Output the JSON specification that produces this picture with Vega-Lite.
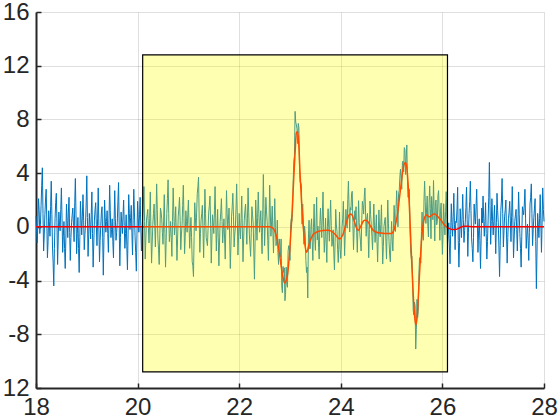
{
  "$schema": "https://vega.github.io/schema/vega-lite/v6.json",
  "width": 508,
  "height": 376,
  "autosize": {"type": "none"},
  "padding": {"left": 36, "top": 12, "right": 16, "bottom": 32},
  "background": "white",
  "config": {
    "view": {"stroke": null},
    "axis": {
      "labelFont": "Liberation Sans",
      "labelFontSize": 24,
      "labelColor": "#262626",
      "domainColor": "#262626",
      "domainWidth": 2,
      "tickColor": "#262626",
      "tickWidth": 1.5,
      "tickSize": -5,
      "gridColor": "#262626",
      "gridOpacity": 0.15,
      "gridWidth": 1,
      "title": null
    }
  },
  "datasets": {
    "blue": [
      {"x":18,"y":0.8},{"x":18.025,"y":-1.2},{"x":18.05,"y":2.1},{"x":18.075,"y":-0.5},{"x":18.1,"y":1.6},{"x":18.125,"y":4.4},{"x":18.15,"y":-1.8},{"x":18.175,"y":0.9},{"x":18.2,"y":2.8},{"x":18.225,"y":-2.3},
      {"x":18.25,"y":1.2},{"x":18.275,"y":-0.7},{"x":18.3,"y":3.4},{"x":18.325,"y":-1.5},{"x":18.35,"y":-4.4},{"x":18.375,"y":0.6},{"x":18.4,"y":2.5},{"x":18.425,"y":-2.8},{"x":18.45,"y":1.1},{"x":18.475,"y":-0.3},
      {"x":18.5,"y":2.9},{"x":18.525,"y":-1.9},{"x":18.55,"y":0.4},{"x":18.575,"y":-3.1},{"x":18.6,"y":1.7},{"x":18.625,"y":-0.8},{"x":18.65,"y":2.2},{"x":18.675,"y":-2.5},{"x":18.7,"y":0.3},{"x":18.725,"y":1.4},
      {"x":18.75,"y":-1.1},{"x":18.775,"y":3.6},{"x":18.8,"y":-2.0},{"x":18.825,"y":0.7},{"x":18.85,"y":-3.4},{"x":18.875,"y":1.9},{"x":18.9,"y":-0.6},{"x":18.925,"y":2.4},{"x":18.95,"y":-1.7},{"x":18.975,"y":0.2},
      {"x":19,"y":3.8},{"x":19.025,"y":-2.2},{"x":19.05,"y":1.0},{"x":19.075,"y":-0.9},{"x":19.1,"y":2.6},{"x":19.125,"y":-3.0},{"x":19.15,"y":0.5},{"x":19.175,"y":1.8},{"x":19.2,"y":-1.4},{"x":19.225,"y":2.9},
      {"x":19.25,"y":-2.6},{"x":19.275,"y":0.1},{"x":19.3,"y":1.5},{"x":19.325,"y":-3.6},{"x":19.35,"y":2.0},{"x":19.375,"y":-0.4},{"x":19.4,"y":1.2},{"x":19.425,"y":-1.9},{"x":19.45,"y":3.1},{"x":19.475,"y":-0.8},
      {"x":19.5,"y":0.6},{"x":19.525,"y":-2.3},{"x":19.55,"y":2.7},{"x":19.575,"y":-1.0},{"x":19.6,"y":0.3},{"x":19.625,"y":3.3},{"x":19.65,"y":-2.9},{"x":19.675,"y":1.1},{"x":19.7,"y":-0.5},{"x":19.725,"y":2.0},
      {"x":19.75,"y":-1.6},{"x":19.775,"y":0.9},{"x":19.8,"y":-3.2},{"x":19.825,"y":2.4},{"x":19.85,"y":-0.2},{"x":19.875,"y":1.6},{"x":19.9,"y":-2.1},{"x":19.925,"y":2.8},{"x":19.95,"y":-0.7},{"x":19.975,"y":-3.3},
      {"x":20,"y":1.9},{"x":20.025,"y":-0.4},{"x":20.05,"y":2.2},{"x":20.075,"y":-1.8},{"x":20.1,"y":0.8},{"x":20.125,"y":3.0},{"x":20.15,"y":-2.4},{"x":20.175,"y":0.5},{"x":20.2,"y":1.3},{"x":20.225,"y":-1.2},
      {"x":20.25,"y":2.6},{"x":20.275,"y":-2.7},{"x":20.3,"y":0.2},{"x":20.325,"y":1.7},{"x":20.35,"y":-1.5},{"x":20.375,"y":3.2},{"x":20.4,"y":-0.9},{"x":20.425,"y":-2.8},{"x":20.45,"y":1.4},{"x":20.475,"y":0.6},
      {"x":20.5,"y":-1.3},{"x":20.525,"y":2.4},{"x":20.55,"y":-3.0},{"x":20.575,"y":1.0},{"x":20.6,"y":3.5},{"x":20.625,"y":-1.1},{"x":20.65,"y":0.4},{"x":20.675,"y":-2.2},{"x":20.7,"y":2.9},{"x":20.725,"y":-0.6},
      {"x":20.75,"y":1.5},{"x":20.775,"y":-2.5},{"x":20.8,"y":0.8},{"x":20.825,"y":2.2},{"x":20.85,"y":-1.7},{"x":20.875,"y":0.1},{"x":20.9,"y":3.1},{"x":20.925,"y":-2.0},{"x":20.95,"y":1.2},{"x":20.975,"y":-0.4},
      {"x":21,"y":2.0},{"x":21.025,"y":-1.6},{"x":21.05,"y":0.7},{"x":21.075,"y":-2.6},{"x":21.1,"y":-3.7},{"x":21.125,"y":1.8},{"x":21.15,"y":-0.3},{"x":21.175,"y":2.5},{"x":21.2,"y":3.7},{"x":21.225,"y":-1.9},
      {"x":21.25,"y":0.5},{"x":21.275,"y":1.6},{"x":21.3,"y":-2.3},{"x":21.325,"y":2.8},{"x":21.35,"y":-0.8},{"x":21.375,"y":-1.4},{"x":21.4,"y":1.1},{"x":21.425,"y":2.3},{"x":21.45,"y":-2.7},{"x":21.475,"y":0.9},
      {"x":21.5,"y":-0.5},{"x":21.525,"y":3.0},{"x":21.55,"y":-1.8},{"x":21.575,"y":1.3},{"x":21.6,"y":-2.9},{"x":21.625,"y":0.4},{"x":21.65,"y":2.1},{"x":21.675,"y":-1.2},{"x":21.7,"y":0.6},{"x":21.725,"y":-2.4},
      {"x":21.75,"y":2.7},{"x":21.775,"y":-0.2},{"x":21.8,"y":1.4},{"x":21.825,"y":-3.1},{"x":21.85,"y":0.8},{"x":21.875,"y":2.5},{"x":21.9,"y":-1.5},{"x":21.925,"y":0.0},{"x":21.95,"y":3.2},{"x":21.975,"y":-2.1},
      {"x":22,"y":1.0},{"x":22.025,"y":-0.9},{"x":22.05,"y":2.3},{"x":22.075,"y":-2.6},{"x":22.1,"y":0.5},{"x":22.125,"y":1.7},{"x":22.15,"y":-1.3},{"x":22.175,"y":2.9},{"x":22.2,"y":-0.6},{"x":22.225,"y":-2.2},
      {"x":22.25,"y":1.5},{"x":22.275,"y":0.3},{"x":22.3,"y":-3.9},{"x":22.325,"y":2.0},{"x":22.35,"y":-1.0},{"x":22.375,"y":2.6},{"x":22.4,"y":-0.4},{"x":22.425,"y":1.2},{"x":22.45,"y":-2.0},{"x":22.475,"y":3.9},
      {"x":22.5,"y":-1.4},{"x":22.525,"y":2.2},{"x":22.55,"y":0.4},{"x":22.575,"y":-2.5},{"x":22.6,"y":3.1},{"x":22.625,"y":-0.7},{"x":22.65,"y":1.55},{"x":22.675,"y":-1.95},{"x":22.7,"y":2.1},{"x":22.725,"y":-1.4},
      {"x":22.75,"y":0.5},{"x":22.775,"y":-2.8},{"x":22.8,"y":-1.4},{"x":22.825,"y":-0.9},{"x":22.85,"y":-4.9},{"x":22.875,"y":-3.4},{"x":22.9,"y":-5.5},{"x":22.925,"y":-3.0},{"x":22.95,"y":-4.5},{"x":22.975,"y":-1.4},
      {"x":23,"y":-2.5},{"x":23.025,"y":0.6},{"x":23.05,"y":1.0},{"x":23.075,"y":4.9},{"x":23.1,"y":8.6},{"x":23.125,"y":7.6},{"x":23.15,"y":6.2},{"x":23.175,"y":7.4},{"x":23.2,"y":3.3},{"x":23.225,"y":3.1},
      {"x":23.25,"y":1.7},{"x":23.275,"y":-1.3},{"x":23.3,"y":-0.6},{"x":23.325,"y":-3.4},{"x":23.35,"y":-5.3},{"x":23.375,"y":0.5},{"x":23.4,"y":-1.6},{"x":23.425,"y":0.6},{"x":23.45,"y":-2.5},{"x":23.475,"y":1.7},
      {"x":23.5,"y":-1.75},{"x":23.525,"y":2.2},{"x":23.55,"y":0.05},{"x":23.575,"y":-2.4},{"x":23.6,"y":1.4},{"x":23.625,"y":-0.8},{"x":23.65,"y":2.6},{"x":23.675,"y":-1.9},{"x":23.7,"y":0.65},{"x":23.725,"y":-2.65},
      {"x":23.75,"y":1.35},{"x":23.775,"y":-1.07},{"x":23.8,"y":2.0},{"x":23.825,"y":-1.45},{"x":23.85,"y":-0.22},{"x":23.875,"y":-3.2},{"x":23.9,"y":1.3},{"x":23.925,"y":-0.32},{"x":23.95,"y":-2.65},{"x":23.975,"y":1.1},
      {"x":24,"y":-2.35},{"x":24.025,"y":0.0},{"x":24.05,"y":1.9},{"x":24.075,"y":-2.15},{"x":24.1,"y":1.3},{"x":24.125,"y":-0.1},{"x":24.15,"y":3.4},{"x":24.175,"y":-0.38},{"x":24.2,"y":1.25},{"x":24.225,"y":2.65},
      {"x":24.25,"y":-1.7},{"x":24.275,"y":1.2},{"x":24.3,"y":1.5},{"x":24.325,"y":-1.9},{"x":24.35,"y":1.95},{"x":24.375,"y":-0.5},{"x":24.4,"y":-1.8},{"x":24.425,"y":1.9},{"x":24.45,"y":0.95},{"x":24.475,"y":2.9},
      {"x":24.5,"y":-0.7},{"x":24.525,"y":1.0},{"x":24.55,"y":-2.3},{"x":24.575,"y":1.92},{"x":24.6,"y":0.15},{"x":24.625,"y":-1.7},{"x":24.65,"y":1.7},{"x":24.675,"y":-1.16},{"x":24.7,"y":0.9},{"x":24.725,"y":-2.62},
      {"x":24.75,"y":1.26},{"x":24.775,"y":-0.75},{"x":24.8,"y":1.64},{"x":24.825,"y":-2.77},{"x":24.85,"y":0.02},{"x":24.875,"y":0.7},{"x":24.9,"y":-2.4},{"x":24.925,"y":2.0},{"x":24.95,"y":-1.1},{"x":24.975,"y":-2.6},
      {"x":25,"y":0.4},{"x":25.025,"y":-1.8},{"x":25.05,"y":1.6},{"x":25.075,"y":-0.35},{"x":25.1,"y":2.7},{"x":25.125,"y":0.0},{"x":25.15,"y":2.7},{"x":25.175,"y":4.3},{"x":25.2,"y":2.8},{"x":25.225,"y":4.9},
      {"x":25.25,"y":5.9},{"x":25.275,"y":3.9},{"x":25.3,"y":6.1},{"x":25.325,"y":2.2},{"x":25.35,"y":2.8},{"x":25.375,"y":-1.8},{"x":25.4,"y":-2.2},{"x":25.425,"y":-6.2},{"x":25.45,"y":-5.6},{"x":25.475,"y":-9.1},
      {"x":25.5,"y":-5.4},{"x":25.525,"y":-6.3},{"x":25.55,"y":-2.3},{"x":25.575,"y":-2.7},{"x":25.6,"y":1.1},{"x":25.625,"y":-1.0},{"x":25.65,"y":3.4},{"x":25.675,"y":0.25},{"x":25.7,"y":2.3},{"x":25.725,"y":-0.75},
      {"x":25.75,"y":3.05},{"x":25.775,"y":-0.88},{"x":25.8,"y":1.5},{"x":25.825,"y":3.45},{"x":25.85,"y":-1.05},{"x":25.875,"y":2.0},{"x":25.9,"y":0.4},{"x":25.925,"y":2.7},{"x":25.95,"y":-1.0},{"x":25.975,"y":1.78},
      {"x":26,"y":-2.05},{"x":26.025,"y":1.72},{"x":26.05,"y":-0.6},{"x":26.075,"y":2.62},{"x":26.1,"y":-1.25},{"x":26.125,"y":0.3},{"x":26.15,"y":-2.75},{"x":26.175,"y":1.72},{"x":26.2,"y":-0.7},{"x":26.225,"y":2.5},
      {"x":26.25,"y":-1.7},{"x":26.275,"y":0.32},{"x":26.3,"y":2.95},{"x":26.325,"y":-3.0},{"x":26.35,"y":1.35},{"x":26.375,"y":-0.8},{"x":26.4,"y":2.42},{"x":26.425,"y":-1.16},{"x":26.45,"y":0.35},{"x":26.475,"y":2.95},
      {"x":26.5,"y":-2.2},{"x":26.525,"y":1.0},{"x":26.55,"y":3.4},{"x":26.575,"y":-0.9},{"x":26.6,"y":-2.6},{"x":26.625,"y":1.7},{"x":26.65,"y":0.2},{"x":26.675,"y":2.8},{"x":26.7,"y":-1.9},{"x":26.725,"y":0.6},
      {"x":26.75,"y":-3.1},{"x":26.775,"y":1.4},{"x":26.8,"y":2.3},{"x":26.825,"y":-0.7},{"x":26.85,"y":1.8},{"x":26.875,"y":-2.4},{"x":26.9,"y":0.5},{"x":26.925,"y":4.8},{"x":26.95,"y":-1.3},{"x":26.975,"y":2.1},
      {"x":27,"y":-0.6},{"x":27.025,"y":1.6},{"x":27.05,"y":-2.0},{"x":27.075,"y":2.5},{"x":27.1,"y":0.3},{"x":27.125,"y":-3.7},{"x":27.15,"y":1.2},{"x":27.175,"y":3.6},{"x":27.2,"y":-1.5},{"x":27.225,"y":0.8},
      {"x":27.25,"y":2.0},{"x":27.275,"y":-2.7},{"x":27.3,"y":0.6},{"x":27.325,"y":1.9},{"x":27.35,"y":-1.1},{"x":27.375,"y":3.0},{"x":27.4,"y":-2.3},{"x":27.425,"y":0.4},{"x":27.45,"y":1.3},{"x":27.475,"y":-1.8},
      {"x":27.5,"y":2.6},{"x":27.525,"y":-0.5},{"x":27.55,"y":-3.0},{"x":27.575,"y":1.5},{"x":27.6,"y":0.9},{"x":27.625,"y":2.8},{"x":27.65,"y":-1.6},{"x":27.675,"y":0.2},{"x":27.7,"y":-2.5},{"x":27.725,"y":1.7},
      {"x":27.75,"y":3.2},{"x":27.775,"y":-1.4},{"x":27.8,"y":0.7},{"x":27.825,"y":2.1},{"x":27.85,"y":-4.6},{"x":27.875,"y":1.0},{"x":27.9,"y":-0.8},{"x":27.925,"y":2.4},{"x":27.95,"y":-1.9},{"x":27.975,"y":2.9},
      {"x":28,"y":0.4},
      {"x":18.0125,"y":-0.4},{"x":18.0375,"y":0.3},{"x":18.0625,"y":1.2},{"x":18.0875,"y":0.2},{"x":18.1125,"y":3.1},{"x":18.1375,"y":1.0},{"x":18.1625,"y":-0.6},{"x":18.1875,"y":2.0},{"x":18.2125,"y":0.5},{"x":18.2375,"y":-1.1},
      {"x":18.2625,"y":0.4},{"x":18.2875,"y":1.5},{"x":18.3125,"y":0.9},{"x":18.3375,"y":-2.7},{"x":18.3625,"y":-1.6},{"x":18.3875,"y":1.8},{"x":18.4125,"y":0.3},{"x":18.4375,"y":-0.9},{"x":18.4625,"y":0.2},{"x":18.4875,"y":1.3},
      {"x":18.5125,"y":0.6},{"x":18.5375,"y":-0.7},{"x":18.5625,"y":-1.6},{"x":18.5875,"y":-0.9},{"x":18.6125,"y":0.5},{"x":18.6375,"y":1.1},{"x":18.6625,"y":-0.4},{"x":18.6875,"y":-0.8},{"x":18.7125,"y":0.9},{"x":18.7375,"y":0.1},
      {"x":18.7625,"y":1.8},{"x":18.7875,"y":0.9},{"x":18.8125,"y":-0.5},{"x":18.8375,"y":-1.6},{"x":18.8625,"y":-0.8},{"x":18.8875,"y":0.6},{"x":18.9125,"y":0.8},{"x":18.9375,"y":0.5},{"x":18.9625,"y":-0.6},{"x":18.9875,"y":1.7},
      {"x":19.0125,"y":0.7},{"x":19.0375,"y":-0.6},{"x":19.0625,"y":0.2},{"x":19.0875,"y":0.9},{"x":19.1125,"y":-0.5},{"x":19.1375,"y":-1.2},{"x":19.1625,"y":1.3},{"x":19.1875,"y":0.2},{"x":19.2125,"y":0.6},{"x":19.2375,"y":0.1},
      {"x":19.2625,"y":-1.0},{"x":19.2875,"y":1.1},{"x":19.3125,"y":-0.8},{"x":19.3375,"y":-0.9},{"x":19.3625,"y":0.7},{"x":19.3875,"y":0.4},{"x":19.4125,"y":-0.5},{"x":19.4375,"y":0.6},{"x":19.4625,"y":1.2},{"x":19.4875,"y":-0.2},
      {"x":19.5125,"y":-1.1},{"x":19.5375,"y":0.4},{"x":19.5625,"y":0.6},{"x":19.5875,"y":-0.4},{"x":19.6125,"y":1.9},{"x":19.6375,"y":0.2},{"x":19.6625,"y":-0.8},{"x":19.6875,"y":0.3},{"x":19.7125,"y":0.8},{"x":19.7375,"y":0.1},
      {"x":19.7625,"y":-0.5},{"x":19.7875,"y":-1.4},{"x":19.8125,"y":-0.6},{"x":19.8375,"y":1.0},{"x":19.8625,"y":0.7},{"x":19.8875,"y":-0.4},{"x":19.9125,"y":0.5},{"x":19.9375,"y":1.1},{"x":19.9625,"y":-1.9},{"x":19.9875,"y":-0.6},
      {"x":20.0125,"y":0.7},{"x":20.0375,"y":0.9},{"x":20.0625,"y":0.1},{"x":20.0875,"y":-0.4},{"x":20.1125,"y":1.7},{"x":20.1375,"y":0.4},{"x":20.1625,"y":-0.9},{"x":20.1875,"y":0.9},{"x":20.2125,"y":-0.1},{"x":20.2375,"y":0.6},
      {"x":20.2625,"y":-0.3},{"x":20.2875,"y":-1.2},{"x":20.3125,"y":1.0},{"x":20.3375,"y":0.1},{"x":20.3625,"y":0.8},{"x":20.3875,"y":1.3},{"x":20.4125,"y":-1.7},{"x":20.4375,"y":-0.6},{"x":20.4625,"y":1.1},{"x":20.4875,"y":-0.4},
      {"x":20.5125,"y":0.5},{"x":20.5375,"y":-0.5},{"x":20.5625,"y":-1.0},{"x":20.5875,"y":2.1},{"x":20.6125,"y":1.0},{"x":20.6375,"y":-0.5},{"x":20.6625,"y":-0.8},{"x":20.6875,"y":0.4},{"x":20.7125,"y":1.2},{"x":20.7375,"y":0.3},
      {"x":20.7625,"y":-0.6},{"x":20.7875,"y":-0.9},{"x":20.8125,"y":1.4},{"x":20.8375,"y":0.5},{"x":20.8625,"y":-0.6},{"x":20.8875,"y":1.6},{"x":20.9125,"y":0.7},{"x":20.9375,"y":-0.7},{"x":20.9625,"y":0.4},{"x":20.9875,"y":0.9},
      {"x":21.0125,"y":0.2},{"x":21.0375,"y":-0.4},{"x":21.0625,"y":-0.8},{"x":21.0875,"y":-2.9},{"x":21.1125,"y":-0.7},{"x":21.1375,"y":0.7},{"x":21.1625,"y":1.1},{"x":21.1875,"y":3.0},{"x":21.2125,"y":0.6},{"x":21.2375,"y":-0.5},
      {"x":21.2625,"y":1.0},{"x":21.2875,"y":-0.3},{"x":21.3125,"y":0.1},{"x":21.3375,"y":1.0},{"x":21.3625,"y":-1.1},{"x":21.3875,"y":-0.1},{"x":21.4125,"y":1.6},{"x":21.4375,"y":0.2},{"x":21.4625,"y":-0.9},{"x":21.4875,"y":0.3},
      {"x":21.5125,"y":1.2},{"x":21.5375,"y":0.6},{"x":21.5625,"y":-0.3},{"x":21.5875,"y":-0.8},{"x":21.6125,"y":-1.2},{"x":21.6375,"y":1.1},{"x":21.6625,"y":0.4},{"x":21.6875,"y":-0.2},{"x":21.7125,"y":-0.9},{"x":21.7375,"y":0.1},
      {"x":21.7625,"y":1.0},{"x":21.7875,"y":0.5},{"x":21.8125,"y":-0.9},{"x":21.8375,"y":-1.4},{"x":21.8625,"y":1.5},{"x":21.8875,"y":0.8},{"x":21.9125,"y":-0.6},{"x":21.9375,"y":1.4},{"x":21.9625,"y":0.9},{"x":21.9875,"y":-0.7},
      {"x":22.0125,"y":-0.1},{"x":22.0375,"y":0.6},{"x":22.0625,"y":-0.3},{"x":22.0875,"y":-0.9},{"x":22.1125,"y":1.2},{"x":22.1375,"y":0.3},{"x":22.1625,"y":0.6},{"x":22.1875,"y":1.1},{"x":22.2125,"y":-1.4},{"x":22.2375,"y":-0.4},
      {"x":22.2625,"y":0.9},{"x":22.2875,"y":-1.8},{"x":22.3125,"y":-1.2},{"x":22.3375,"y":0.6},{"x":22.3625,"y":0.7},{"x":22.3875,"y":1.0},{"x":22.4125,"y":0.4},{"x":22.4375,"y":-0.4},{"x":22.4625,"y":0.8},{"x":22.4875,"y":1.3},
      {"x":22.5125,"y":0.3},{"x":22.5375,"y":1.2},{"x":22.5625,"y":-1.0},{"x":22.5875,"y":0.2},{"x":22.6125,"y":1.1},{"x":22.6375,"y":0.37},{"x":22.6625,"y":-0.3},{"x":22.6875,"y":-0.02},{"x":22.7125,"y":-0.05},{"x":22.7375,"y":-1.1},
      {"x":22.7625,"y":-1.9},{"x":22.7875,"y":-0.9},{"x":22.8125,"y":-2.25},{"x":22.8375,"y":-4.4},{"x":22.8625,"y":-2.95},{"x":22.8875,"y":-3.05},{"x":22.9125,"y":-5.05},{"x":22.9375,"y":-4.3},{"x":22.9625,"y":-1.8},{"x":22.9875,"y":-1.7},
      {"x":23.0125,"y":0.15},{"x":23.0375,"y":0.4},{"x":23.0625,"y":3.35},{"x":23.0875,"y":5.3},{"x":23.1125,"y":7.8},{"x":23.1375,"y":7.3},{"x":23.1625,"y":7.7},{"x":23.1875,"y":4.3},{"x":23.2125,"y":3.3},{"x":23.2375,"y":0.2},
      {"x":23.2625,"y":0.35},{"x":23.2875,"y":0.05},{"x":23.3125,"y":-2.5},{"x":23.3375,"y":-3.0},{"x":23.3625,"y":-0.9},{"x":23.3875,"y":-1.65},{"x":23.4125,"y":0.0},{"x":23.4375,"y":-1.1},{"x":23.4625,"y":-0.05},{"x":23.4875,"y":-0.77},
      {"x":23.5125,"y":0.28},{"x":23.5375,"y":-0.97},{"x":23.5625,"y":-1.53},{"x":23.5875,"y":0.19},{"x":23.6125,"y":0.11},{"x":23.6375,"y":1.03},{"x":23.6625,"y":-0.06},{"x":23.6875,"y":-0.95},{"x":23.7125,"y":-1.25},{"x":23.7375,"y":0.05},
      {"x":23.7625,"y":-0.06},{"x":23.7875,"y":0.62},{"x":23.8125,"y":0.08},{"x":23.8375,"y":-1.08},{"x":23.8625,"y":-1.96},{"x":23.8875,"y":-1.15},{"x":23.9125,"y":0.14},{"x":23.9375,"y":-1.68},{"x":23.9625,"y":-1.28},{"x":23.9875,"y":-1.68},
      {"x":24.0125,"y":-1.28},{"x":24.0375,"y":0.6},{"x":24.0625,"y":-0.03},{"x":24.0875,"y":-0.38},{"x":24.1125,"y":0.55},{"x":24.1375,"y":2.05},{"x":24.1625,"y":1.46},{"x":24.1875,"y":1.44},{"x":24.2125,"y":2.5},{"x":24.2375,"y":0.32},
      {"x":24.2625,"y":-0.15},{"x":24.2875,"y":0.55},{"x":24.3125,"y":-0.4},{"x":24.3375,"y":-0.03},{"x":24.3625,"y":0.32},{"x":24.3875,"y":-1.1},{"x":24.4125,"y":0.5},{"x":24.4375,"y":1.58},{"x":24.4625,"y":2.28},{"x":24.4875,"y":1.1},
      {"x":24.5125,"y":0.65},{"x":24.5375,"y":-0.45},{"x":24.5625,"y":-0.19},{"x":24.5875,"y":0.93},{"x":24.6125,"y":-0.73},{"x":24.6375,"y":0.05},{"x":24.6625,"y":0.07},{"x":24.6875,"y":-0.18},{"x":24.7125,"y":-1.11},{"x":24.7375,"y":-0.73},
      {"x":24.7625,"y":-0.15},{"x":24.7875,"y":0.15},{"x":24.8125,"y":-0.67},{"x":24.8375,"y":-1.47},{"x":24.8625,"y":0.43},{"x":24.8875,"y":-1.08},{"x":24.9125,"y":-0.08},{"x":24.9375,"y":0.22},{"x":24.9625,"y":-2.1},{"x":24.9875,"y":-0.98},
      {"x":25.0125,"y":-1.05},{"x":25.0375,"y":-0.1},{"x":25.0625,"y":0.37},{"x":25.0875,"y":1.37},{"x":25.1125,"y":1.4},{"x":25.1375,"y":2.5},{"x":25.1625,"y":3.7},{"x":25.1875,"y":3.5},{"x":25.2125,"y":4.75},{"x":25.2375,"y":4.1},
      {"x":25.2625,"y":5.75},{"x":25.2875,"y":5.2},{"x":25.3125,"y":3.4},{"x":25.3375,"y":2.85},{"x":25.3625,"y":-0.2},{"x":25.3875,"y":-2.35},{"x":25.4125,"y":-3.6},{"x":25.4375,"y":-6.55},{"x":25.4625,"y":-5.9},{"x":25.4875,"y":-7.65},
      {"x":25.5125,"y":-6.75},{"x":25.5375,"y":-3.5},{"x":25.5625,"y":-2.35},{"x":25.5875,"y":-0.35},{"x":25.6125,"y":-0.5},{"x":25.6375,"y":2.0},{"x":25.6625,"y":1.88},{"x":25.6875,"y":1.18},{"x":25.7125,"y":0.22},{"x":25.7375,"y":1.75},
      {"x":25.7625,"y":1.38},{"x":25.7875,"y":2.26},{"x":25.8125,"y":0.53},{"x":25.8375,"y":1.25},{"x":25.8625,"y":1.83},{"x":25.8875,"y":0.15},{"x":25.9125,"y":2.35},{"x":25.9375,"y":1.05},{"x":25.9625,"y":1.24},{"x":25.9875,"y":0.02},
      {"x":26.0125,"y":-0.52},{"x":26.0375,"y":0.36},{"x":26.0625,"y":1.16},{"x":26.0875,"y":0.59},{"x":26.1125,"y":-0.58},{"x":26.1375,"y":-1.43},{"x":26.1625,"y":-0.57},{"x":26.1875,"y":0.31},{"x":26.2125,"y":0.8},{"x":26.2375,"y":0.2},
      {"x":26.2625,"y":0.41},{"x":26.2875,"y":1.33},{"x":26.3125,"y":-1.03},{"x":26.3375,"y":-1.18},{"x":26.3625,"y":0.27},{"x":26.3875,"y":0.81},{"x":26.4125,"y":0.53},{"x":26.4375,"y":-0.26},{"x":26.4625,"y":1.45},{"x":26.4875,"y":0.55},
      {"x":26.5125,"y":-0.4},{"x":26.5375,"y":1.9},{"x":26.5625,"y":1.2},{"x":26.5875,"y":-1.6},{"x":26.6125,"y":-0.8},{"x":26.6375,"y":0.7},{"x":26.6625,"y":1.5},{"x":26.6875,"y":0.6},{"x":26.7125,"y":-0.3},{"x":26.7375,"y":-1.0},
      {"x":26.7625,"y":-0.9},{"x":26.7875,"y":0.3},{"x":26.8125,"y":0.6},{"x":26.8375,"y":0.4},{"x":26.8625,"y":-0.5},{"x":26.8875,"y":-1.1},{"x":26.9125,"y":2.2},{"x":26.9375,"y":1.6},{"x":26.9625,"y":0.4},{"x":26.9875,"y":0.5},
      {"x":27.0125,"y":0.4},{"x":27.0375,"y":-0.1},{"x":27.0625,"y":0.3},{"x":27.0875,"y":1.2},{"x":27.1125,"y":-1.5},{"x":27.1375,"y":-1.4},{"x":27.1625,"y":2.0},{"x":27.1875,"y":1.0},{"x":27.2125,"y":-0.3},{"x":27.2375,"y":1.3},
      {"x":27.2625,"y":-0.6},{"x":27.2875,"y":-0.8},{"x":27.3125,"y":1.1},{"x":27.3375,"y":0.5},{"x":27.3625,"y":0.8},{"x":27.3875,"y":0.7},{"x":27.4125,"y":-0.9},{"x":27.4375,"y":0.9},{"x":27.4625,"y":-0.2},{"x":27.4875,"y":0.3},
      {"x":27.5125,"y":0.9},{"x":27.5375,"y":-1.6},{"x":27.5625,"y":-0.7},{"x":27.5875,"y":1.2},{"x":27.6125,"y":1.7},{"x":27.6375,"y":0.6},{"x":27.6625,"y":-0.6},{"x":27.6875,"y":-1.0},{"x":27.7125,"y":-0.4},{"x":27.7375,"y":2.2},
      {"x":27.7625,"y":1.0},{"x":27.7875,"y":-0.2},{"x":27.8125,"y":1.4},{"x":27.8375,"y":-1.1},{"x":27.8625,"y":-1.8},{"x":27.8875,"y":0.2},{"x":27.9125,"y":0.6},{"x":27.9375,"y":0.5},{"x":27.9625,"y":0.3},{"x":27.9875,"y":1.3}
    ],
    "red": [
      {"x":18,"y":0},{"x":22.6,"y":0},{"x":22.625,"y":-0.02},{"x":22.65,"y":-0.05},{"x":22.675,"y":-0.15},{"x":22.7,"y":-0.3},{"x":22.725,"y":-0.6},
      {"x":22.75,"y":-1.0},{"x":22.775,"y":-1.6},{"x":22.8,"y":-2.2},{"x":22.825,"y":-2.9},{"x":22.85,"y":-3.5},{"x":22.875,"y":-4.0},{"x":22.9,"y":-4.2},{"x":22.925,"y":-4.0},{"x":22.95,"y":-3.6},{"x":22.975,"y":-2.7},
      {"x":23,"y":-1.5},{"x":23.025,"y":0.0},{"x":23.05,"y":1.8},{"x":23.075,"y":3.7},{"x":23.1,"y":5.5},{"x":23.125,"y":7.0},{"x":23.15,"y":7.1},{"x":23.175,"y":6.0},{"x":23.2,"y":3.8},{"x":23.225,"y":2.0},
      {"x":23.25,"y":0.5},{"x":23.275,"y":-0.6},{"x":23.3,"y":-1.5},{"x":23.325,"y":-1.9},{"x":23.35,"y":-1.7},{"x":23.375,"y":-1.3},{"x":23.4,"y":-1.0},{"x":23.425,"y":-0.8},{"x":23.45,"y":-0.6},{"x":23.475,"y":-0.5},
      {"x":23.5,"y":-0.45},{"x":23.55,"y":-0.35},{"x":23.6,"y":-0.3},{"x":23.65,"y":-0.27},{"x":23.7,"y":-0.25},{"x":23.75,"y":-0.25},{"x":23.8,"y":-0.3},{"x":23.85,"y":-0.42},{"x":23.9,"y":-0.6},{"x":23.95,"y":-0.85},{"x":23.975,"y":-0.9},
      {"x":24,"y":-0.85},{"x":24.025,"y":-0.7},{"x":24.05,"y":-0.5},{"x":24.075,"y":-0.15},{"x":24.1,"y":0.2},{"x":24.125,"y":0.5},{"x":24.15,"y":0.8},{"x":24.175,"y":0.92},{"x":24.2,"y":0.95},{"x":24.225,"y":0.85},
      {"x":24.25,"y":0.6},{"x":24.275,"y":0.3},{"x":24.3,"y":0.0},{"x":24.325,"y":-0.2},{"x":24.35,"y":-0.25},{"x":24.375,"y":-0.1},{"x":24.4,"y":0.1},{"x":24.425,"y":0.3},{"x":24.45,"y":0.45},{"x":24.475,"y":0.5},
      {"x":24.5,"y":0.5},{"x":24.525,"y":0.4},{"x":24.55,"y":0.3},{"x":24.575,"y":0.12},{"x":24.6,"y":-0.05},{"x":24.625,"y":-0.2},{"x":24.65,"y":-0.3},{"x":24.7,"y":-0.4},{"x":24.8,"y":-0.46},{"x":24.9,"y":-0.5},
      {"x":25,"y":-0.5},{"x":25.025,"y":-0.4},{"x":25.05,"y":-0.2},{"x":25.075,"y":0.15},{"x":25.1,"y":0.6},{"x":25.125,"y":1.2},{"x":25.15,"y":2.0},{"x":25.175,"y":2.8},{"x":25.2,"y":3.6},{"x":25.225,"y":4.3},
      {"x":25.25,"y":4.7},{"x":25.275,"y":4.8},{"x":25.3,"y":4.4},{"x":25.325,"y":3.2},{"x":25.35,"y":1.5},{"x":25.375,"y":-0.7},{"x":25.4,"y":-3.0},{"x":25.425,"y":-5.0},{"x":25.45,"y":-6.5},{"x":25.475,"y":-7.3},
      {"x":25.5,"y":-6.8},{"x":25.525,"y":-5.3},{"x":25.55,"y":-3.5},{"x":25.575,"y":-1.8},{"x":25.6,"y":-0.5},{"x":25.625,"y":0.3},{"x":25.65,"y":0.7},{"x":25.675,"y":0.85},{"x":25.7,"y":0.9},{"x":25.725,"y":0.75},
      {"x":25.75,"y":0.75},{"x":25.775,"y":0.82},{"x":25.8,"y":0.9},{"x":25.825,"y":0.95},{"x":25.85,"y":0.95},{"x":25.875,"y":0.9},{"x":25.9,"y":0.8},{"x":25.925,"y":0.7},{"x":25.95,"y":0.6},{"x":25.975,"y":0.48},
      {"x":26,"y":0.35},{"x":26.025,"y":0.22},{"x":26.05,"y":0.1},{"x":26.075,"y":0.02},{"x":26.1,"y":-0.05},{"x":26.15,"y":-0.15},{"x":26.2,"y":-0.2},{"x":26.25,"y":-0.2},{"x":26.3,"y":-0.15},{"x":26.35,"y":-0.05},
      {"x":26.4,"y":0.02},{"x":26.45,"y":0.05},{"x":26.5,"y":0.05},{"x":26.55,"y":0.02},{"x":26.6,"y":0},{"x":28,"y":0}
    ],
    "box": [{"x1":20.1,"x2":26.1,"y1":-10.8,"y2":12.8}]
  },
  "layer": [
    {
      "data": {"name": "blue"},
      "mark": {"type": "line", "color": "#0072BD", "strokeWidth": 1},
      "encoding": {
        "x": {"field": "x", "type": "quantitative",
              "scale": {"domain": [18, 28], "nice": false, "zero": false},
              "axis": {"values": [18, 20, 22, 24, 26, 28], "labelPadding": 12, "labelFlush": false}},
        "y": {"field": "y", "type": "quantitative",
              "scale": {"domain": [-12, 16], "nice": false, "zero": false},
              "axis": {"values": [-12, -8, -4, 0, 4, 8, 12, 16], "labelPadding": 12,
                       "labelExpr": "datum.value == -12 ? '12' : '' + datum.value", "labelFlush": false}}
      }
    },
    {
      "data": {"name": "red"},
      "mark": {"type": "line", "color": "#ff0000", "strokeWidth": 1.5, "interpolate": "monotone"},
      "encoding": {
        "x": {"field": "x", "type": "quantitative"},
        "y": {"field": "y", "type": "quantitative"}
      }
    },
    {
      "data": {"name": "box"},
      "mark": {"type": "rect", "fill": "#ffff00", "fillOpacity": 0.3, "stroke": "#000000", "strokeWidth": 1.2},
      "encoding": {
        "x": {"field": "x1", "type": "quantitative"},
        "x2": {"field": "x2"},
        "y": {"field": "y1", "type": "quantitative"},
        "y2": {"field": "y2"}
      }
    }
  ]
}
